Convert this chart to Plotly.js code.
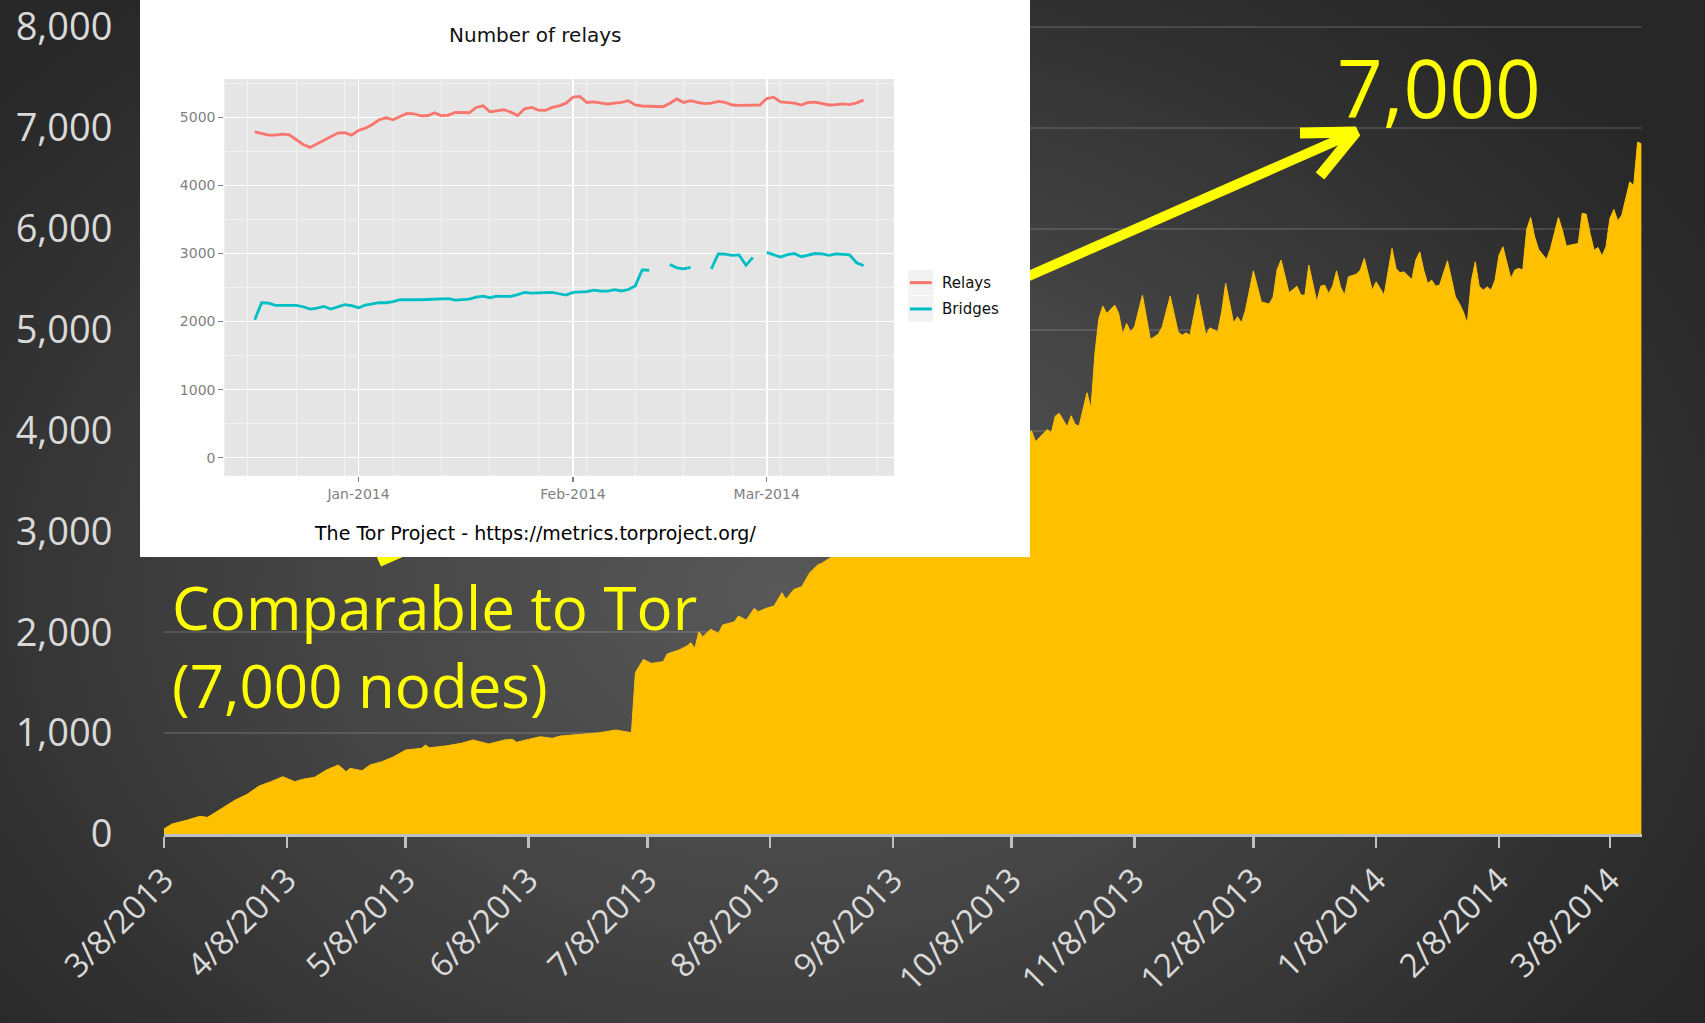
<!DOCTYPE html>
<html>
<head>
<meta charset="utf-8">
<script src="https://cdn.plot.ly/plotly-3.0.1.min.js"></script>
<style>
html, body { margin:0; padding:0; width:1705px; height:1023px; overflow:hidden;
  background: radial-gradient(ellipse 62% 75% at 46% 58%, #585858 0%, #444444 45%, #2e2e2e 85%, #272727 100%); }
#chart { width:1705px; height:1023px; }
</style>
</head>
<body>
<div id="chart"></div>
<script>
// ---------------- DATA ----------------
// Main chart: number of nodes over time
const nodeDates = [
 '2013-03-08','2013-03-10','2013-03-14','2013-03-17','2013-03-19','2013-03-22','2013-03-26','2013-03-29',
 '2013-04-01','2013-04-04','2013-04-07','2013-04-10','2013-04-12','2013-04-15','2013-04-18','2013-04-21',
 '2013-04-23','2013-04-24','2013-04-27','2013-04-29','2013-05-02','2013-05-05','2013-05-08','2013-05-12',
 '2013-05-13','2013-05-14','2013-05-18','2013-05-22','2013-05-25','2013-05-29','2013-06-02','2013-06-04',
 '2013-06-05','2013-06-08','2013-06-11','2013-06-14','2013-06-16','2013-06-19','2013-06-23','2013-06-26',
 '2013-06-30','2013-07-03','2013-07-04','2013-07-05','2013-07-07','2013-07-09','2013-07-12','2013-07-13',
 '2013-07-16','2013-07-18','2013-07-19','2013-07-20','2013-07-21','2013-07-22','2013-07-24','2013-07-26',
 '2013-07-27','2013-07-30','2013-07-31','2013-08-02','2013-08-04','2013-08-05','2013-08-07','2013-08-09',
 '2013-08-11','2013-08-12','2013-08-14','2013-08-16','2013-08-18','2013-08-20','2013-08-21','2013-08-23',
 '2013-08-26','2013-08-30','2013-09-03','2013-09-07','2013-09-11','2013-09-15','2013-09-19','2013-09-23',
 '2013-09-27','2013-10-01','2013-10-05','2013-10-09','2013-10-13','2013-10-14','2013-10-16','2013-10-17',
 '2013-10-18','2013-10-19','2013-10-20','2013-10-22','2013-10-23','2013-10-24','2013-10-25','2013-10-26',
 '2013-10-27','2013-10-28','2013-10-29','2013-10-30','2013-10-31','2013-11-01','2013-11-03','2013-11-04',
 '2013-11-05','2013-11-06','2013-11-07','2013-11-08','2013-11-10','2013-11-12','2013-11-14','2013-11-15',
 '2013-11-17','2013-11-19','2013-11-20','2013-11-21','2013-11-22','2013-11-24','2013-11-26','2013-11-27',
 '2013-11-29','2013-11-30','2013-12-01','2013-12-03','2013-12-04','2013-12-05','2013-12-06','2013-12-08',
 '2013-12-10','2013-12-12','2013-12-13','2013-12-14','2013-12-15','2013-12-17','2013-12-19','2013-12-20',
 '2013-12-21','2013-12-22','2013-12-24','2013-12-25','2013-12-26','2013-12-27','2013-12-28','2013-12-29',
 '2013-12-30','2013-12-31','2014-01-01','2014-01-03','2014-01-04','2014-01-05','2014-01-07','2014-01-08',
 '2014-01-10','2014-01-12','2014-01-13','2014-01-14','2014-01-15','2014-01-17','2014-01-18','2014-01-19',
 '2014-01-20','2014-01-21','2014-01-22','2014-01-23','2014-01-24','2014-01-26','2014-01-28','2014-01-29',
 '2014-01-30','2014-01-31','2014-02-01','2014-02-02','2014-02-03','2014-02-04','2014-02-05','2014-02-06',
 '2014-02-07','2014-02-08','2014-02-09','2014-02-11','2014-02-12','2014-02-13','2014-02-14','2014-02-15',
 '2014-02-16','2014-02-17','2014-02-18','2014-02-20','2014-02-21','2014-02-22','2014-02-23','2014-02-24',
 '2014-02-25','2014-02-26','2014-02-28','2014-03-01','2014-03-02','2014-03-03','2014-03-04','2014-03-05',
 '2014-03-06','2014-03-07','2014-03-08','2014-03-09','2014-03-10','2014-03-11','2014-03-12','2014-03-13',
 '2014-03-14','2014-03-15','2014-03-16'
];
const nodeCounts = [
 50,99,139,175,165,238,337,393,
 476,519,568,519,542,562,634,684,
 617,651,627,684,717,766,832,849,
 882,855,872,899,932,892,932,938,
 909,938,964,948,971,981,998,1004,
 1031,1008,1004,1600,1731,1692,1708,1784,
 1824,1863,1896,1840,2005,1956,2029,1989,
 2071,2104,2161,2121,2237,2203,2237,2260,
 2392,2326,2425,2451,2590,2666,2683,2732,
 2850,2980,3100,3230,3350,3420,3550,3640,
 3700,3790,3850,3920,3997,3888,3964,4011,
 3978,4143,4169,4037,4146,4060,4044,4202,
 4374,4219,4764,5111,5233,5160,5243,5160,
 4955,5061,4978,5028,5342,4903,4955,5028,
 5332,4978,4945,4968,4945,5349,4945,5018,
 4978,5176,5457,5067,5127,5067,5193,5583,
 5275,5253,5325,5597,5689,5365,5431,5342,
 5342,5639,5275,5431,5441,5358,5431,5583,
 5424,5342,5523,5550,5590,5706,5391,5474,
 5342,5805,5607,5563,5573,5497,5689,5771,
 5590,5457,5491,5431,5441,5682,5325,5259,
 5176,5061,5474,5672,5431,5391,5424,5391,
 5491,5738,5821,5507,5590,5607,5590,5993,
 6112,5920,5795,5696,5805,5959,6112,5986,
 5828,5838,5854,6152,6145,5953,5788,5814,
 5729,5821,6102,6191,6078,6135,6316,6465,
 6430,6860,6840
];
const mainTickDates = ['2013-03-08','2013-04-08','2013-05-08','2013-06-08','2013-07-08','2013-08-08',
  '2013-09-08','2013-10-08','2013-11-08','2013-12-08','2014-01-08','2014-02-08','2014-03-08'];
const mainTickLabels = ['3/8/2013','4/8/2013','5/8/2013','6/8/2013','7/8/2013','8/8/2013',
  '9/8/2013','10/8/2013','11/8/2013','12/8/2013','1/8/2014','2/8/2014','3/8/2014'];
const yTickValues = [0, 1000, 2000, 3000, 4000, 5000, 6000, 7000, 8000];
const yTickLabels = ['0', '1,000', '2,000', '3,000', '4,000', '5,000', '6,000', '7,000', '8,000'];

// Inset chart (Tor metrics): daily relays and bridges
const insetDates = [
 '2013-12-17','2013-12-18','2013-12-19','2013-12-20','2013-12-21','2013-12-22','2013-12-23','2013-12-24',
 '2013-12-25','2013-12-26','2013-12-27','2013-12-28','2013-12-29','2013-12-30','2013-12-31',
 '2014-01-01','2014-01-02','2014-01-03','2014-01-04','2014-01-05','2014-01-06','2014-01-07','2014-01-08',
 '2014-01-09','2014-01-10','2014-01-11','2014-01-12','2014-01-13','2014-01-14','2014-01-15','2014-01-16',
 '2014-01-17','2014-01-18','2014-01-19','2014-01-20','2014-01-21','2014-01-22','2014-01-23','2014-01-24',
 '2014-01-25','2014-01-26','2014-01-27','2014-01-28','2014-01-29','2014-01-30','2014-01-31',
 '2014-02-01','2014-02-02','2014-02-03','2014-02-04','2014-02-05','2014-02-06','2014-02-07','2014-02-08',
 '2014-02-09','2014-02-10','2014-02-11','2014-02-12','2014-02-13','2014-02-14','2014-02-15','2014-02-16',
 '2014-02-17','2014-02-18','2014-02-19','2014-02-20','2014-02-21','2014-02-22','2014-02-23','2014-02-24',
 '2014-02-25','2014-02-26','2014-02-27','2014-02-28',
 '2014-03-01','2014-03-02','2014-03-03','2014-03-04','2014-03-05','2014-03-06','2014-03-07','2014-03-08',
 '2014-03-09','2014-03-10','2014-03-11','2014-03-12','2014-03-13','2014-03-14','2014-03-15'
];
const relayCounts = [
 4789,4770,4740,4740,4755,4745,4672,4603,
 4560,4613,4667,4720,4770,4775,4740,
 4809,4843,4897,4966,4995,4966,5015,5059,
 5054,5025,5025,5069,5025,5034,5074,5069,
 5069,5147,5171,5083,5098,5113,5078,5029,
 5127,5147,5108,5103,5147,5171,5210,
 5299,5308,5220,5230,5210,5196,5210,5220,
 5246,5183,5168,5168,5157,5157,5209,5272,
 5220,5246,5220,5204,5209,5236,5220,5183,
 5178,5183,5183,5183,
 5277,5298,5230,5225,5209,5183,5220,5225,
 5209,5183,5188,5199,5188,5215,5257
];
const bridgeCounts = [
 2027,2277,2272,2238,2238,2238,2238,2218,
 2184,2199,2223,2184,2213,2248,2233,
 2204,2243,2258,2277,2277,2292,2321,2326,
 2321,2321,2326,2326,2331,2336,2316,2326,
 2331,2360,2375,2351,2375,2370,2370,2395,
 2429,2419,2419,2424,2429,2409,2390,
 2429,2439,2439,2463,2449,2449,2468,2450,
 2471,2524,2759,2754,null,null,2838,2790,
 2775,2796,null,null,2775,2995,2990,2974,
 2979,2827,2942,null,
 3016,2979,2948,2984,3000,2953,2979,3000,
 2995,2974,2995,2984,2979,2864,2822
];
const seriesNames = ['Relays', 'Bridges'];
const seriesColors = ['#F8766D', '#00BFC4'];
const insetTickDates = ['2014-01-01','2014-02-01','2014-03-01'];
const insetTickLabels = ['Jan-2014','Feb-2014','Mar-2014'];
const insetYTicks = [0, 1000, 2000, 3000, 4000, 5000];
const insetYLabels = ['0', '1000', '2000', '3000', '4000', '5000'];

// Texts
const insetTitle = 'Number of relays';
const insetCaption = 'The Tor Project - https://metrics.torproject.org/';
const calloutText = 'Comparable to Tor<br>(7,000 nodes)';
const bigLabel = '7,000';

// Arrow (decoration) in main-chart data coordinates: tail -> tip, plus two head arms
const arrowShaftX = ['2013-05-01 06:30', '2014-01-02 21:30'];
const arrowShaftY = [2696, 6959];
const arrowHeadX = ['2013-12-19 18:30', '2014-01-02 21:30', '2013-12-24 19:40'];
const arrowHeadY = [6949, 6959, 6523];

// ---------------- GEOMETRY (page px) ----------------
const W = 1705, H = 1023;
const Y_TOP = 8020;                       // small headroom so the 8,000 grid line / label is kept
const MAIN = {x0:164, x1:1641.6, y1:834};
MAIN.y0 = MAIN.y1 - 807 * Y_TOP / 8000;   // 8,000 sits at page y ~27
const BOX = {x0:140, x1:1030, y0:0, y1:557};
const PANEL = {x0:224.3, x1:894, y0:79, y1:475.7};
const KEYS = [{x0:908.3, x1:933.3, y0:270, y1:295.3}, {x0:908.3, x1:933.3, y0:296.3, y1:321.6}];
const xd = (a, b) => [a / W, b / W];
const yd = (top, bottom) => [1 - bottom / H, 1 - top / H];
const px = v => v / W, py = v => 1 - v / H;
const rect = r => ({x:[r.x0, r.x1, r.x1, r.x0, r.x0], y:[r.y0, r.y0, r.y1, r.y1, r.y0]});

const MAINFONT = '"Open Sans", "Noto Sans", sans-serif';
const GGFONT = '"DejaVu Sans", sans-serif';

// ---------------- TRACES ----------------
const traces = [];
// main area
traces.push({
  type:'scatter', mode:'lines', x:nodeDates, y:nodeCounts, xaxis:'x', yaxis:'y',
  fill:'tozeroy', fillcolor:'#FFC000', line:{color:'#FFC000', width:1},
  hoverinfo:'skip', showlegend:false
});
// arrow (drawn beneath the inset)
traces.push({
  type:'scatter', mode:'lines', x:arrowShaftX, y:arrowShaftY, xaxis:'x', yaxis:'y',
  line:{color:'#FFFF00', width:10}, hoverinfo:'skip', showlegend:false, cliponaxis:false
});
traces.push({
  type:'scatter', mode:'lines', x:arrowHeadX, y:arrowHeadY, xaxis:'x', yaxis:'y',
  line:{color:'#FFFF00', width:11}, hoverinfo:'skip', showlegend:false, cliponaxis:false
});
// inset white box and grey panel (x3/y3 in page px)
const boxR = rect(BOX);
traces.push({type:'scatter', mode:'lines', x:boxR.x, y:boxR.y, xaxis:'x3', yaxis:'y3',
  fill:'toself', fillcolor:'#FFFFFF', line:{width:0, color:'#FFFFFF'}, hoverinfo:'skip', showlegend:false});
const panR = rect(PANEL);
traces.push({type:'scatter', mode:'lines', x:panR.x, y:panR.y, xaxis:'x3', yaxis:'y3',
  fill:'toself', fillcolor:'#E5E5E5', line:{width:0, color:'#E5E5E5'}, hoverinfo:'skip', showlegend:false});
// legend keys
KEYS.forEach((k, i) => {
  const r = rect(k);
  traces.push({type:'scatter', mode:'lines', x:r.x, y:r.y, xaxis:'x3', yaxis:'y3',
    fill:'toself', fillcolor:'#F2F2F2', line:{width:0, color:'#F2F2F2'}, hoverinfo:'skip', showlegend:false});
  const ym = (k.y0 + k.y1) / 2;
  traces.push({type:'scatter', mode:'lines', x:[k.x0 + 1.5, k.x1 - 1.5], y:[ym, ym], xaxis:'x3', yaxis:'y3',
    line:{width:3, color:seriesColors[i]}, hoverinfo:'skip', showlegend:false});
});
// inset lines
traces.push({type:'scatter', mode:'lines', x:insetDates, y:relayCounts, xaxis:'x4', yaxis:'y4',
  name:seriesNames[0], line:{color:seriesColors[0], width:2.8}, connectgaps:false, hoverinfo:'skip', showlegend:false});
traces.push({type:'scatter', mode:'lines', x:insetDates, y:bridgeCounts, xaxis:'x4', yaxis:'y4',
  name:seriesNames[1], line:{color:seriesColors[1], width:2.8}, connectgaps:false, hoverinfo:'skip', showlegend:false});

// ---------------- LAYOUT ----------------
const layout = {
  width:W, height:H,
  margin:{l:0, r:0, t:0, b:0, pad:0},
  paper_bgcolor:'rgba(0,0,0,0)', plot_bgcolor:'rgba(0,0,0,0)',
  showlegend:false,
  font:{family:MAINFONT, color:'#D9D9D9'},
  xaxis:{
    type:'date', domain:xd(MAIN.x0, MAIN.x1), anchor:'y',
    range:['2013-03-08', '2014-03-16'],
    tickmode:'array', tickvals:mainTickDates, ticktext:mainTickLabels, tickangle:-45,
    ticks:'outside', ticklen:11, tickwidth:2.5, tickcolor:'#BFBFBF',
    showline:true, linecolor:'#BFBFBF', linewidth:2.5,
    showgrid:false, zeroline:false, ticklabeloverflow:'allow',
    tickfont:{family:MAINFONT, size:33, color:'#D9D9D9'}
  },
  yaxis:{
    domain:yd(MAIN.y0, MAIN.y1), anchor:'x',
    range:[0, Y_TOP], tickmode:'array', tickvals:yTickValues, ticktext:yTickLabels,
    ticks:'outside', ticklen:43, tickcolor:'rgba(0,0,0,0)',
    showgrid:true, gridcolor:'rgba(255,255,255,0.13)', gridwidth:2,
    zeroline:false, showline:false, ticklabeloverflow:'allow',
    tickfont:{family:MAINFONT, size:38, color:'#D9D9D9'}
  },
  xaxis3:{domain:xd(BOX.x0, BOX.x1), anchor:'y3', range:[BOX.x0, BOX.x1], visible:false, fixedrange:true},
  yaxis3:{domain:yd(BOX.y0, BOX.y1), anchor:'x3', range:[BOX.y1, BOX.y0], visible:false, fixedrange:true},
  xaxis4:{
    type:'date', domain:xd(PANEL.x0, PANEL.x1), anchor:'y4',
    range:['2013-12-12 14:24', '2014-03-19 09:36'],
    tickmode:'array', tickvals:insetTickDates, ticktext:insetTickLabels,
    ticks:'outside', ticklen:5, tickwidth:1.3, tickcolor:'#7F7F7F',
    showgrid:true, gridcolor:'#FFFFFF', gridwidth:1.6, zeroline:false, showline:false,
    minor:{tick0:'2013-12-16', dtick:7*86400000, showgrid:true, gridcolor:'#F2F2F2', gridwidth:1, ticks:''},
    tickfont:{family:GGFONT, size:14, color:'#7F7F7F'}
  },
  yaxis4:{
    domain:yd(PANEL.y0, PANEL.y1), anchor:'x4',
    range:[-265, 5565], tickmode:'array', tickvals:insetYTicks, ticktext:insetYLabels,
    ticks:'outside', ticklen:5, tickwidth:1.3, tickcolor:'#7F7F7F',
    showgrid:true, gridcolor:'#FFFFFF', gridwidth:1.6, zeroline:false, showline:false,
    minor:{tick0:500, dtick:1000, showgrid:true, gridcolor:'#F2F2F2', gridwidth:1, ticks:''},
    tickfont:{family:GGFONT, size:14, color:'#7F7F7F'}
  },
  annotations:[
    {text:calloutText, xref:'paper', yref:'paper', x:px(170), y:py(646), xanchor:'left', yanchor:'middle',
     align:'left', showarrow:false, font:{family:MAINFONT, size:60, color:'#FFFF00'}},
    {text:bigLabel, xref:'paper', yref:'paper', x:px(1335), y:py(86), xanchor:'left', yanchor:'middle',
     showarrow:false, font:{family:MAINFONT, size:80, color:'#FFFF00'}},
    {text:insetTitle, xref:'paper', yref:'paper', x:px(535), y:py(35), xanchor:'center', yanchor:'middle',
     showarrow:false, font:{family:GGFONT, size:20, color:'#111111'}},
    {text:insetCaption, xref:'paper', yref:'paper', x:px(535), y:py(533), xanchor:'center', yanchor:'middle',
     showarrow:false, font:{family:GGFONT, size:19, color:'#000000'}},
    {text:seriesNames[0], xref:'paper', yref:'paper', x:px(940), y:py((KEYS[0].y0 + KEYS[0].y1) / 2), xanchor:'left', yanchor:'middle',
     showarrow:false, font:{family:GGFONT, size:15, color:'#111111'}},
    {text:seriesNames[1], xref:'paper', yref:'paper', x:px(940), y:py((KEYS[1].y0 + KEYS[1].y1) / 2), xanchor:'left', yanchor:'middle',
     showarrow:false, font:{family:GGFONT, size:15, color:'#111111'}}
  ]
};

Plotly.newPlot('chart', traces, layout, {displayModeBar:false, staticPlot:true});
</script>
</body>
</html>
